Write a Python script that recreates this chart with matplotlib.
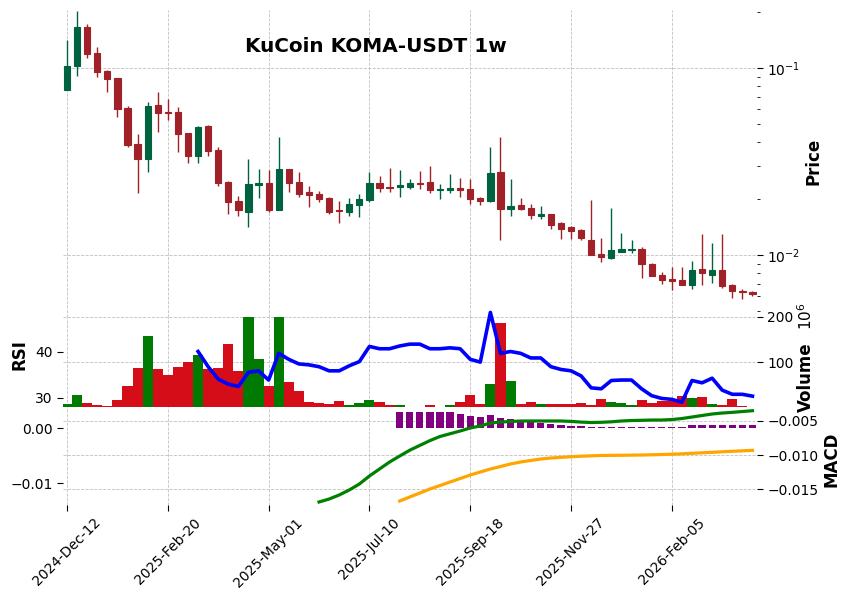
import numpy as np
import pandas as pd
import matplotlib
matplotlib.use("Agg")
import matplotlib.pyplot as plt
from matplotlib.ticker import FixedLocator, FuncFormatter, NullFormatter, LogLocator
from matplotlib.transforms import blended_transform_factory

# weekly candles, KuCoin KOMA-USDT
dates = pd.date_range("2024-12-12", periods=69, freq="7D")

opens = [0.0763, 0.1025, 0.1664, 0.1208, 0.0967, 0.0884, 0.0613, 0.0392, 0.0326, 0.0634,
         0.0583, 0.0582, 0.0449, 0.0340, 0.0491, 0.0364, 0.0246, 0.0195, 0.0170, 0.0237,
         0.0244, 0.0174, 0.0288, 0.0245, 0.0217, 0.0211, 0.0202, 0.0175, 0.0170, 0.0186,
         0.0197, 0.0244, 0.0231, 0.0232, 0.0232, 0.0244, 0.0246, 0.0223, 0.0223, 0.0229,
         0.0225, 0.0202, 0.0194, 0.0278, 0.0176, 0.0185, 0.0178, 0.0162, 0.0165, 0.0148,
         0.0141, 0.0136, 0.0120, 0.0101, 0.00964, 0.0104, 0.0106, 0.01077, 0.0090, 0.0078,
         0.0074, 0.00735, 0.00691, 0.00838, 0.00786, 0.0083, 0.0069, 0.00644, 0.00635]
highs = [0.141, 0.2016, 0.172, 0.130, 0.0975, 0.0885, 0.0626, 0.0442, 0.0655, 0.0741,
         0.068, 0.0617, 0.0451, 0.049, 0.0495, 0.0378, 0.025, 0.0207, 0.0325, 0.0287,
         0.0285, 0.0426, 0.029, 0.0277, 0.0233, 0.0219, 0.0203, 0.0194, 0.0201, 0.0211,
         0.0277, 0.0265, 0.0291, 0.0284, 0.0255, 0.028, 0.0299, 0.024, 0.0271, 0.0257,
         0.0255, 0.0205, 0.0377, 0.0426, 0.0254, 0.0201, 0.0187, 0.0182, 0.0166, 0.015,
         0.0143, 0.0138, 0.0197, 0.0124, 0.0178, 0.01306, 0.0121, 0.0110, 0.0091, 0.0081,
         0.00866, 0.00866, 0.00929, 0.0129, 0.0116, 0.0130, 0.0070, 0.0066, 0.0064]
lows = [0.0760, 0.0906, 0.1128, 0.0898, 0.0747, 0.0545, 0.0377, 0.0215, 0.0277, 0.0456,
        0.0527, 0.0357, 0.0309, 0.0309, 0.0340, 0.0235, 0.0165, 0.0162, 0.0141, 0.0201,
        0.0170, 0.0174, 0.0218, 0.0205, 0.0180, 0.0191, 0.0165, 0.0148, 0.0162, 0.0159,
        0.0193, 0.0218, 0.0218, 0.0204, 0.0226, 0.0225, 0.0214, 0.0199, 0.0214, 0.0205,
        0.0187, 0.0184, 0.0192, 0.0121, 0.0162, 0.0174, 0.0155, 0.0156, 0.0138, 0.0122,
        0.0122, 0.0121, 0.0100, 0.00914, 0.0095, 0.0104, 0.0102, 0.0075, 0.0077, 0.00697,
        0.0065, 0.0069, 0.0066, 0.0069, 0.00707, 0.0067, 0.00589, 0.00582, 0.0060]
closes = [0.1025, 0.1664, 0.119, 0.0955, 0.0873, 0.0606, 0.0387, 0.0326, 0.0626, 0.0577,
          0.0578, 0.0444, 0.0340, 0.0486, 0.0361, 0.0242, 0.0193, 0.0173, 0.0240, 0.0242,
          0.0174, 0.0288, 0.0244, 0.0212, 0.0210, 0.0199, 0.0170, 0.0171, 0.0187, 0.0199,
          0.0244, 0.0229, 0.0229, 0.0237, 0.0244, 0.0241, 0.0223, 0.0225, 0.0229, 0.0223,
          0.0199, 0.0194, 0.0274, 0.0176, 0.0183, 0.0176, 0.0164, 0.0165, 0.0145, 0.0138,
          0.0135, 0.0124, 0.01004, 0.0098, 0.01063, 0.01077, 0.0108, 0.00895, 0.0077, 0.00735,
          0.0073, 0.00691, 0.0083, 0.0080, 0.0083, 0.00683, 0.00642, 0.00632, 0.0062]
# volume in millions
volumes = [6, 27, 9, 4.5, 2, 16, 47, 86, 157, 84,
           72, 90, 99, 115, 85, 86, 139, 79, 235, 106,
           47, 245, 56, 36, 11, 9, 7, 13, 4.5, 9,
           16, 11, 4.5, 4.5, 1, 1, 4.5, 1, 4.5, 11,
           27, 7, 52, 187, 58, 7, 11, 7, 7, 7,
           7, 9, 4.5, 18, 11, 9, 4.5, 16, 9, 13,
           13, 25, 20, 22, 7, 4.5, 18, 2, 1]

rsi_start = 13
rsi = [40.1, 36.8, 34.1, 33.0, 32.5, 35.6, 35.9, 33.9, 39.7, 38.4,
       37.4, 37.2, 36.8, 35.9, 35.9, 37.0, 37.9, 41.2, 40.7, 40.7,
       41.3, 41.7, 41.7, 40.7, 40.7, 40.9, 40.7, 38.4, 37.8, 48.6,
       39.7, 40.1, 39.7, 38.7, 38.7, 36.8, 36.2, 35.9, 34.8, 32.2,
       32.0, 33.8, 33.9, 33.9, 32.0, 30.5, 29.9, 29.7, 29.1, 33.8,
       33.3, 34.3, 31.7, 30.8, 30.8, 30.4]

macd_start = 25
macd = [-0.01685, -0.01642, -0.01583, -0.0151, -0.01423, -0.01306, -0.01204, -0.01102,
        -0.01015, -0.0093, -0.0086, -0.0079, -0.0073, -0.0069, -0.0065, -0.00606,
        -0.00577, -0.00534, -0.00519, -0.00512, -0.00504, -0.00504, -0.00504, -0.00504,
        -0.00504, -0.0051, -0.0052, -0.00526, -0.00523, -0.00516, -0.00504, -0.00497,
        -0.00494, -0.0049, -0.0049, -0.00483, -0.00468, -0.00446, -0.00424, -0.00402,
        -0.00388, -0.00378, -0.00366, -0.00354]

signal_start = 33
signal = [-0.01671, -0.01612, -0.01554, -0.01496, -0.01445, -0.01394, -0.01343, -0.01292,
          -0.01248, -0.01204, -0.01168, -0.01131, -0.01102, -0.0108, -0.01058, -0.01044,
          -0.01034, -0.01025, -0.01018, -0.01012, -0.01007, -0.01005, -0.01004, -0.01002,
          -0.0100, -0.00997, -0.00993, -0.00988, -0.00983, -0.00975, -0.00968, -0.00961,
          -0.00953, -0.00946, -0.00939, -0.00932]

hist_start = 33
hist = [0.00302, 0.00302, 0.00302, 0.00291, 0.00291, 0.00291, 0.0026, 0.00224, 0.00206,
        0.00242, 0.00187, 0.00169, 0.00133, 0.00115, 0.00096, 0.00078, 0.0006, 0.00047,
        0.00042, 0.00029, 0.00029, 0.00029, 0.00029, 0.00029, 0.00029, 0.00029, 0.00029,
        0.00029, 0.00029, 0.0006, 0.0006, 0.0006, 0.0006, 0.0006, 0.0006, 0.0006]

up_col, dn_col = "#006340", "#A02128"
vup_col, vdn_col = "#007a00", "#d50d18"
grid_kw = dict(color="#c0c0c0", linestyle="--", linewidth=0.6)

n = len(opens)
x = np.arange(n)
is_up = [c >= o for o, c in zip(opens, closes)]

fig = plt.figure(figsize=(8.5, 6), dpi=100)
L, W = 63 / 850, 694 / 850
ax_p = fig.add_axes([L, 283 / 600, W, 307 / 600])
ax_v = fig.add_axes([L, 193 / 600, W, 90 / 600], sharex=ax_p)
ax_m = fig.add_axes([L, 95 / 600, W, 98 / 600], sharex=ax_p)

# --- price panel
for i in range(n):
    col = up_col if is_up[i] else dn_col
    ax_p.vlines(x[i], lows[i], highs[i], color=col, lw=1.0, zorder=2)
    ax_p.bar(x[i], abs(closes[i] - opens[i]), bottom=min(opens[i], closes[i]),
             width=0.62, color=col, edgecolor=col, lw=0.8, zorder=3)
ax_p.set_yscale("log")
ax_p.set_ylim(0.00466, 0.2042)
ax_p.yaxis.tick_right()
ax_p.yaxis.set_minor_locator(LogLocator(base=10, subs=np.arange(2, 10)))
ax_p.yaxis.set_minor_formatter(NullFormatter())
ax_p.grid(True, which="major", **grid_kw)
ax_p.tick_params(axis="x", bottom=False, labelbottom=False)
ax_p.tick_params(axis="y", which="major", labelsize=10, length=4)
ax_p.tick_params(axis="y", which="minor", length=2)

# --- volume + RSI panel
vcols = [vup_col if u else vdn_col for u in is_up]
ax_v.bar(x, np.array(volumes) * 1e6, width=1.0, color=vcols, lw=0, zorder=2)
ax_v.set_ylim(0, 200e6)
ax_v.yaxis.set_major_locator(FixedLocator([100e6, 200e6]))
ax_v.yaxis.set_major_formatter(FuncFormatter(lambda v, _: f"{v / 1e6:.0f}"))
ax_v.grid(True, **grid_kw)
ax_v.tick_params(axis="x", bottom=False, labelbottom=False)

ax_r = ax_v.twinx()
ax_r.yaxis.tick_left()
ax_v.yaxis.tick_right()
ax_v.tick_params(axis="y", labelsize=10, length=4)
ax_r.plot(x[rsi_start:rsi_start + len(rsi)], rsi, color="blue", lw=2.6, clip_on=False)
ax_r.set_ylim(28.04, 47.6)
ax_r.yaxis.set_major_locator(FixedLocator([30, 40]))
ax_r.tick_params(axis="y", labelsize=10, length=4)

# --- MACD panel: histogram on the left scale, lines on the right scale
ax_m2 = ax_m.twinx()
ax_m.bar(x[hist_start:hist_start + len(hist)], hist, width=0.72, color="purple", lw=0, zorder=2)
ax_m.set_ylim(-0.01395, 0.00387)
ax_m.yaxis.set_major_locator(FixedLocator([-0.01, 0.0]))
ax_m.tick_params(axis="y", labelsize=10, length=4)
ax_m.grid(True, axis="x", **grid_kw)

ax_m2.plot(x[macd_start:macd_start + len(macd)], macd, color="green", lw=2.3)
ax_m2.plot(x[signal_start:signal_start + len(signal)], signal, color="orange", lw=2.3)
ax_m2.set_ylim(-0.01729, -0.0030)
macd_ticks = [-0.015, -0.010, -0.005]
ax_m2.yaxis.set_major_locator(FixedLocator(macd_ticks))
ax_m2.tick_params(axis="y", labelsize=10, length=4)
# right-scale grid drawn underneath the histogram
gtrans = blended_transform_factory(ax_m.transAxes, ax_m2.transData)
for t in macd_ticks:
    ax_m.plot([0, 1], [t, t], transform=gtrans, zorder=1, **grid_kw)

# x axis: every 10th week
ax_m.set_xlim(-0.4, 68.45)
tick_idx = list(range(0, n, 10))
ax_m.xaxis.set_major_locator(FixedLocator(tick_idx))
ax_m.xaxis.set_major_formatter(FuncFormatter(
    lambda v, _: dates[int(round(v))].strftime("%Y-%b-%d") if 0 <= round(v) < n else ""))
ax_m.tick_params(axis="x", labelsize=10, length=4, rotation=45)
for lab in ax_m.get_xticklabels():
    lab.set_ha("center")
ax_p.grid(True, axis="x", **grid_kw)
ax_v.grid(True, axis="x", **grid_kw)

for a in (ax_p, ax_v, ax_r, ax_m, ax_m2):
    for s in a.spines.values():
        s.set_visible(False)

# labels
def ftext(px, py, s, **kw):
    fig.text(px / 850, 1 - py / 600, s, ha="center", va="center", **kw)

ftext(376, 47, "KuCoin KOMA-USDT 1w", fontsize=14.4, fontweight="bold")
ftext(813, 161, "Price", fontsize=12, fontweight="bold", rotation=90)
ftext(806, 377, "Volume", fontsize=12, fontweight="bold", rotation=90)
ftext(806, 316, "$10^{6}$", fontsize=11, rotation=90)
ftext(20, 355, "RSI", fontsize=12, fontweight="bold", rotation=90)
ftext(831, 459, "MACD", fontsize=12, fontweight="bold", rotation=90)

fig.savefig("out.png", dpi=100)
